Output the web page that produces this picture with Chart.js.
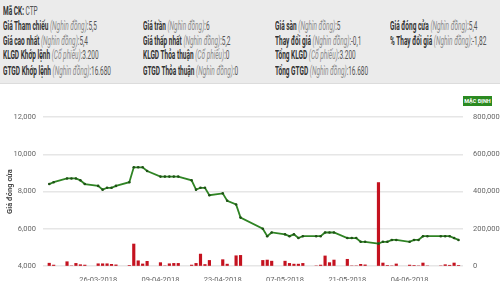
<!DOCTYPE html>
<html>
<head>
<meta charset="utf-8">
<script src="https://cdn.jsdelivr.net/npm/chart.js@4.4.1/dist/chart.umd.min.js"></script>
<style>
html,body{margin:0;padding:0;width:500px;height:281px;overflow:hidden;background:#fff;}
#hdr{position:absolute;left:0;top:0;width:500px;height:83px;background:#ebebeb;border-bottom:1px solid #dcdcdc;}
.t{position:absolute;white-space:nowrap;font-family:Roboto,sans-serif;font-size:12px;line-height:12px;transform-origin:left center;color:#555;}
.t b{font-weight:bold;color:#333;}
.t i{color:#8a8a8a;}
#wrap{position:absolute;left:0;top:85px;width:508px;height:196px;}
#btn{position:absolute;left:463px;top:96px;width:29px;height:10px;background:#2b8a21;color:#fff;font-family:Roboto,sans-serif;font-size:5.5px;font-weight:bold;line-height:10px;text-align:center;}
</style>
</head>
<body>
<div id="hdr"></div>
<div id="btn">MẶC ĐỊNH</div>
<div id="wrap"><canvas id="c" width="508" height="196"></canvas></div>
<script>
// ---- data ----
const dates = ['15-03-2018','16-03-2018','19-03-2018','20-03-2018','21-03-2018','22-03-2018','23-03-2018',
'26-03-2018','27-03-2018','28-03-2018','29-03-2018','30-03-2018',
'02-04-2018','03-04-2018','04-04-2018','05-04-2018','06-04-2018',
'09-04-2018','10-04-2018','11-04-2018','12-04-2018','13-04-2018',
'16-04-2018','17-04-2018','18-04-2018','19-04-2018','20-04-2018',
'23-04-2018','24-04-2018','26-04-2018','27-04-2018',
'02-05-2018','03-05-2018','04-05-2018',
'07-05-2018','08-05-2018','09-05-2018','10-05-2018','11-05-2018',
'14-05-2018','15-05-2018','16-05-2018','17-05-2018','18-05-2018',
'21-05-2018','22-05-2018','23-05-2018','24-05-2018','25-05-2018',
'28-05-2018','29-05-2018','30-05-2018','31-05-2018','01-06-2018',
'04-06-2018','05-06-2018','06-06-2018','07-06-2018','08-06-2018',
'11-06-2018','12-06-2018','13-06-2018','14-06-2018','15-06-2018'];
const closePrice = [8400,8500,8700,8700,8700,8600,8400,
8300,8100,8200,8200,8300,
8500,9300,9300,9300,9100,
8800,8800,8800,8800,8800,
8600,8100,8200,8200,7800,
7900,7500,7300,6600,
6000,5600,5800,
5700,5600,5700,5500,5600,
5600,5600,5800,5800,5800,
5500,5500,5500,5300,5300,
5200,5300,5300,5400,5400,
5300,5400,5400,5600,5600,
5600,5600,5600,5500,5400];
const volume = [15000,5000,23000,0,14000,7000,5000,
12000,12000,12000,9000,6000,
3000,118000,28000,11000,25000,
18000,0,12000,14000,14000,
5000,14000,64000,8000,30000,
34000,10000,55000,57000,
30000,32000,26000,
26000,14000,10000,10000,14000,
0,5000,54000,18000,32000,
36000,0,0,9000,6000,
448000,16000,3000,0,11000,
5000,3000,0,16000,0,
0,7000,4000,16000,3200];
const tickLabels = ['26-03-2018','09-04-2018','23-04-2018','07-05-2018','21-05-2018','04-06-2018'];
const leftTicks = [4000,6000,8000,10000,12000];
const rightTicks = [0,200000,400000,600000,800000];
const headerRows = [
  [['Mã CK:','', 'CTP']],
  [['Giá Tham chiếu','(Nghìn đồng)',':5,5'],['Giá trần','(Nghìn đồng)',':6'],['Giá sàn','(Nghìn đồng)',':5'],['Giá đóng cửa','(Nghìn đồng)',':5,4']],
  [['Giá cao nhất','(Nghìn đồng)',':5,4'],['Giá thấp nhất','(Nghìn đồng)',':5,2'],['Thay đổi giá','(Nghìn đồng)',':-0,1'],['% Thay đổi giá','(Nghìn đồng)',':-1,82']],
  [['KLGD Khớp lệnh','(Cổ phiếu)',':3.200'],['KLGD Thỏa thuận','(Cổ phiếu)',':0'],['Tổng KLGD','(Cổ phiếu)',':3.200']],
  [['GTGD Khớp lệnh','(Nghìn đồng)',':16.680'],['GTGD Thỏa thuận','(Nghìn đồng)',':0'],['Tổng GTGD','(Nghìn đồng)',':16.680']]
];

// ---- header ----
const rowY = [11,26,41,55,71];
const colX = [3,143,275,390];
const hdr = document.getElementById('hdr');
const cells = [];
headerRows.forEach((row,r)=>{
  row.forEach((cell,c)=>{
    const d = document.createElement('div');
    d.className='t';
    d.style.left = colX[c]+'px';
    d.style.top = (rowY[r]-6)+'px';
    d.innerHTML = '<b>'+cell[0]+'</b> '+(cell[1]?'<i>'+cell[1]+'</i>':'')+cell[2];
    hdr.appendChild(d);
    cells.push(d);
  });
});
// condense the text uniformly (reference uses a condensed face)
const refW = cells[1].getBoundingClientRect().width;
const k = 94/refW;
cells.forEach(d=>{d.style.transform='scaleX('+k+')';});

// ---- chart ----
const base = Date.UTC(2018,2,26);
function dayNum(s){const p=s.split('-');return (Date.UTC(+p[2],+p[1]-1,+p[0])-base)/86400000;}
const xs = dates.map(dayNum);
const tickVals = tickLabels.map(dayNum);
const linePts = xs.map((x,i)=>({x:x,y:closePrice[i]}));
const barPts = xs.map((x,i)=>({x:x,y:volume[i]}));
const FONT = "Roboto,sans-serif";

new Chart(document.getElementById('c'),{
  type:'line',
  data:{datasets:[
    {type:'line',data:linePts,yAxisID:'y',order:0,borderColor:'#2f8424',borderWidth:1.8,
     pointRadius:1.3,pointBackgroundColor:'#1f5216',pointBorderWidth:0,tension:0},
    {type:'bar',data:barPts,yAxisID:'y1',order:1,backgroundColor:'#c4121f',barThickness:2.5}
  ]},
  options:{
    responsive:false,animation:false,
    layout:{padding:{top:32,left:0,right:0,bottom:0}},
    plugins:{legend:{display:false},tooltip:{enabled:false}},
    scales:{
      x:{type:'linear',min:-12.4,max:82,offset:false,
        grid:{display:false},border:{display:false},
        afterBuildTicks:(s)=>{s.ticks=tickVals.map(v=>({value:v}));},
        afterFit:(s)=>{s.height=15;},
        ticks:{autoSkip:false,maxRotation:0,padding:2,color:'#666',font:{family:FONT,size:7.5},
          callback:(v)=>{const i=tickVals.indexOf(v);return i>=0?tickLabels[i]:'';}}},
      y:{position:'left',min:4000,max:12000,
        afterBuildTicks:(s)=>{s.ticks=leftTicks.map(v=>({value:v}));},
        afterFit:(s)=>{s.width=43;},
        grid:{color:'#e6e6e6',lineWidth:1.5,drawTicks:false},border:{display:false},
        title:{display:true,text:'Giá đóng cửa',color:'#444',font:{family:FONT,size:7.5,weight:'bold'},padding:{top:6,bottom:0}},
        ticks:{padding:7,color:'#666',font:{family:FONT,size:7.5},callback:(v)=>v.toLocaleString('en-US')}},
      y1:{position:'right',min:0,max:800000,
        afterBuildTicks:(s)=>{s.ticks=rightTicks.map(v=>({value:v}));},
        afterFit:(s)=>{s.width=45;},
        grid:{drawOnChartArea:false,drawTicks:false},border:{display:false},
        title:{display:true,text:'KLGD',color:'#444',font:{family:FONT,size:7.5,weight:'bold'},padding:0},
        ticks:{padding:10,color:'#666',font:{family:FONT,size:7.5},callback:(v)=>v.toLocaleString('en-US')}}
    }
  }
});
</script>
</body>
</html>
